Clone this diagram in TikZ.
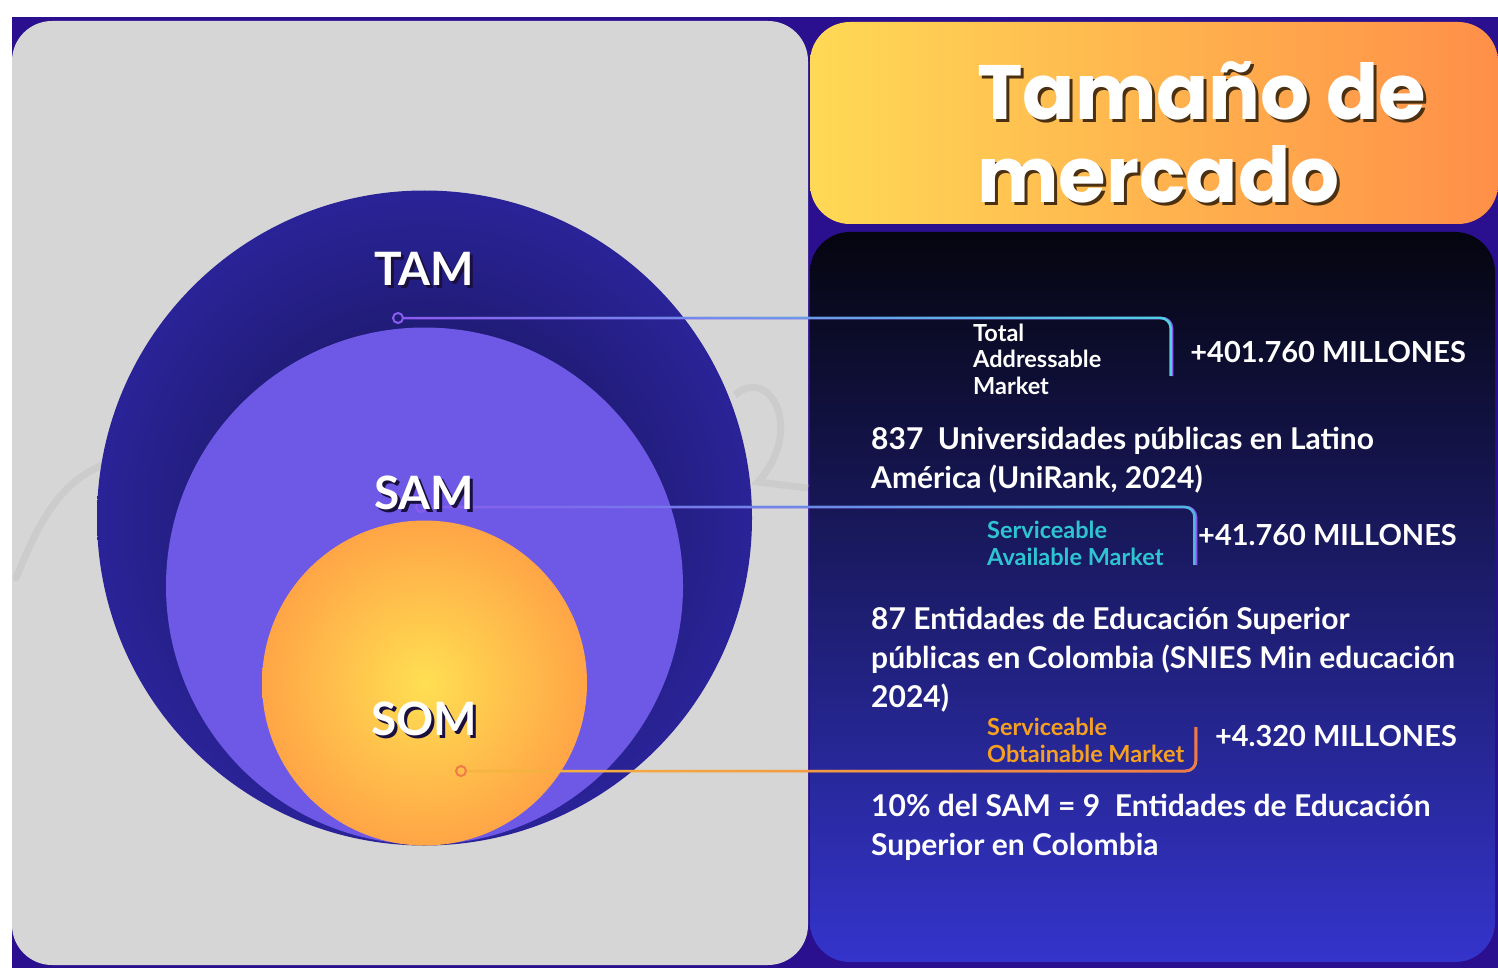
\documentclass[tikz,border=0pt]{standalone}
\usepackage{fontspec}
\setmainfont{Lato}
\newfontfamily\titulofont{Poppins}
\usetikzlibrary{shapes}
\usetikzlibrary{positioning}
\usetikzlibrary{calc}
\usetikzlibrary{fadings}

\definecolor{fondo}{HTML}{2A0F8F}
\definecolor{gris}{HTML}{D6D6D6}
\definecolor{grisclaro}{HTML}{CCCCCC}
\definecolor{tamcentro}{HTML}{121248}
\definecolor{tamborde}{HTML}{2A2398}
\definecolor{samcolor}{HTML}{6E59E6}
\definecolor{somcentro}{HTML}{FFDF52}
\definecolor{somborde}{HTML}{FFA546}
\definecolor{amarillo}{HTML}{FFD955}
\definecolor{naranja}{HTML}{FF8F48}
\definecolor{cian}{HTML}{2EC4D2}
\definecolor{cianlinea}{HTML}{4FD3E3}
\definecolor{azullinea}{HTML}{4FB8E0}
\definecolor{morado}{HTML}{8A5CF0}
\definecolor{naranjatexto}{HTML}{F5A020}
\definecolor{naranjalinea}{HTML}{F5B840}
\definecolor{naranjapunto}{HTML}{F07A48}
\definecolor{sombraoscura}{HTML}{1A1040}
\definecolor{sombratitulo}{HTML}{4A3010}
\definecolor{panelarriba}{HTML}{05050F}
\definecolor{panelmedio}{HTML}{1C1870}
\definecolor{panelabajo}{HTML}{3434CC}

% texto con sombra
\newcommand{\sombra}[2][sombraoscura]{\rlap{\kern3pt\raisebox{-3pt}{\textcolor{#1}{#2}}}#2}

\begin{document}
\begin{tikzpicture}[x=1pt,y=-1pt]
\tikzstyle{titulo}=[anchor=base west,align=left,inner sep=0pt,text=white,
        font=\titulofont\bfseries\fontsize{77}{83}\selectfont]
\tikzstyle{etiqueta}=[anchor=base,inner sep=0pt,text=white,
        font=\bfseries\fontsize{46}{46}\selectfont]
\tikzstyle{pequeno}=[anchor=base west,align=left,inner sep=0pt,text=white,
        font=\bfseries\fontsize{23.5}{26.5}\selectfont]
\tikzstyle{cifra}=[anchor=base east,inner sep=0pt,text=white,
        font=\bfseries\fontsize{29}{29}\selectfont]
\tikzstyle{texto}=[anchor=base west,align=left,inner sep=0pt,text=white,
        font=\bfseries\fontsize{30}{39}\selectfont]
\tikzstyle{punto}=[circle,draw,line width=2pt,minimum size=10pt,inner sep=0pt]
\tikzstyle{linea}=[line width=2.5pt,rounded corners=10pt]
\useasboundingbox (0,0) rectangle (1498,968);
%fondos
\fill[white] (0,0) rectangle (1498,968);
\fill[fondo] (12,17) rectangle (1498,968);
\fill[gris,rounded corners=40pt] (12,21) rectangle (808,965);
\draw[grisclaro,line width=7pt,line cap=round] (16,578) .. controls (40,520) and (60,480) .. (110,462);
\draw[grisclaro,line width=7pt] (735,395) .. controls (770,365) and (805,430) .. (758,482) -- (808,488);
\shade[rounded corners=40pt,left color=amarillo,right color=naranja] (810,22) rectangle (1498,224);
\shade[rounded corners=40pt,top color=panelarriba,middle color=panelmedio,bottom color=panelabajo] (810,232) rectangle (1495,962);
%circulos
\node[circle,minimum size=655pt,inner sep=0pt,inner color=tamcentro,outer color=tamborde] (tam) at (424.5,518) {};
\node[circle,minimum size=517pt,inner sep=0pt,fill=samcolor] (sam) at (424.5,586) {};
\node[circle,minimum size=325pt,inner sep=0pt,inner color=somcentro,outer color=somborde] (som) at (424.5,683) {};
%puntos y lineas
\node[punto,draw=morado] (tampunto) at (398,318) {};
\node[punto,draw=morado] (sampunto) at (421,507) {};
\node[punto,draw=naranjapunto] (sompunto) at (461,771) {};
\coordinate (tamfin) at (1172,376);
\coordinate (samfin) at (1196,565);
\coordinate (somfin) at (1196,727);
\draw[linea,morado] (tampunto.east) -| (tamfin);
\draw[linea,cianlinea,path fading=west] (tampunto.east) -| (tamfin);
\draw[linea,morado] (sampunto.east) -| (samfin);
\draw[linea,azullinea,path fading=west] (sampunto.east) -| (samfin);
\draw[linea,naranjalinea] (sompunto.east) -| (somfin);
\draw[linea,naranjapunto,path fading=west] (sompunto.east) -| (somfin);
%etiquetas
\node[etiqueta] (tametiq) at (424,285) {\sombra{TAM}};
\node[etiqueta] (sametiq) at (424,509) {\sombra{SAM}};
\node[etiqueta] (sometiq) at (424,735) {\sombra{SOM}};
%titulo
\node[titulo] (titulo) at (977,203) {\sombra[sombratitulo]{Tamaño de}\\\sombra[sombratitulo]{mercado}};
%textos
\node[pequeno] (tamnombre) at (973,394) {Total\\Addressable\\Market};
\node[cifra] (tamcifra) at (1466,362) {+401.760 MILLONES};
\node[texto] (tamtexto) at (871,488) {837~ Universidades públicas en Latino\\América (UniRank, 2024)};
\node[pequeno,text=cian] (samnombre) at (987,565) {Serviceable\\Available Market};
\node[cifra] (samcifra) at (1457,545) {+41.760 MILLONES};
\node[texto] (samtexto) at (871,707) {87 Entidades de Educación Superior\\públicas en Colombia (SNIES Min educación\\2024)};
\node[pequeno,text=naranjatexto] (somnombre) at (987,762) {Serviceable\\Obtainable Market};
\node[cifra] (somcifra) at (1457,746) {+4.320 MILLONES};
\node[texto] (somtexto) at (871,855) {10\% del SAM = 9~ Entidades de Educación\\Superior en Colombia};
\end{tikzpicture}
\end{document}
